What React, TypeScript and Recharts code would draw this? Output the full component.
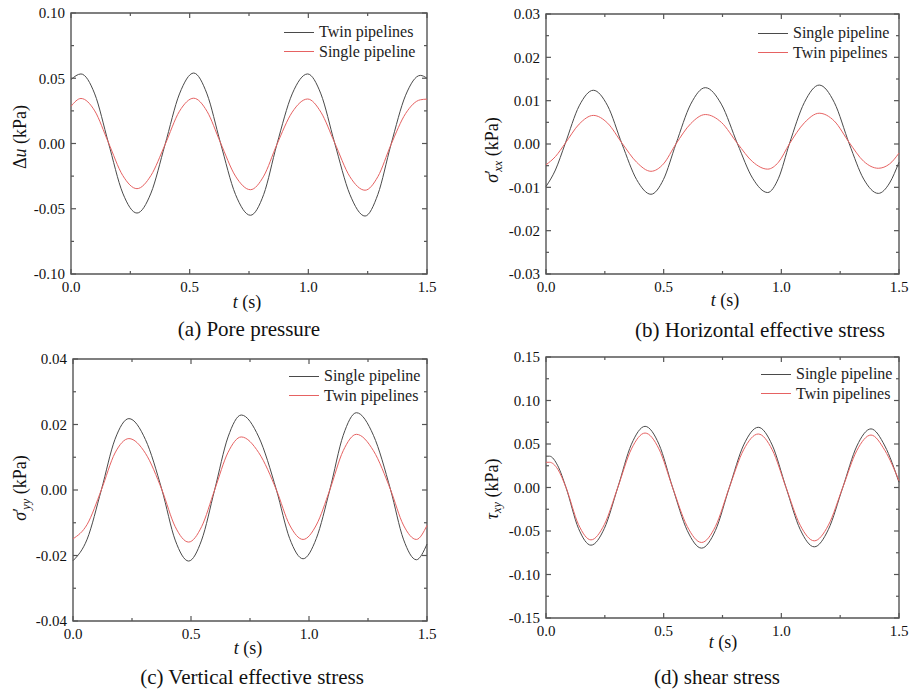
import React from 'react';
import { LineChart, Line, XAxis, YAxis, Legend, ReferenceArea } from 'recharts';

const FONT = '"Liberation Serif", "Times New Roman", serif';
const BLACK = '#4a4a4a';
const RED = '#e66262';
const AXIS = '#555';

// (a) pore pressure, kPa
const tA = [0, 0.042, 0.1, 0.157, 0.218, 0.278, 0.337, 0.396, 0.457, 0.517, 0.573, 0.629, 0.693, 0.756, 0.812, 0.867, 0.932, 0.997, 1.053, 1.11, 1.175, 1.239, 1.293, 1.348, 1.41, 1.472, 1.5];
const twinA = [0.049, 0.0533, 0.038, 0.001, -0.038, -0.0533, -0.038, -0.001, 0.038, 0.054, 0.038, 0.001, -0.039, -0.055, -0.039, -0.001, 0.038, 0.0533, 0.038, 0.001, -0.039, -0.0556, -0.039, -0.001, 0.037, 0.0522, 0.05];
const singleA = [0.0285, 0.0345, 0.025, 0.001, -0.0245, -0.0346, -0.0245, -0.001, 0.0247, 0.0347, 0.0247, 0.001, -0.025, -0.0354, -0.025, -0.001, 0.024, 0.0341, 0.024, 0.001, -0.0254, -0.0358, -0.0254, -0.001, 0.023, 0.0335, 0.034];

// (b) horizontal effective stress
const tB = [0, 0.04, 0.081, 0.141, 0.201, 0.262, 0.323, 0.385, 0.446, 0.499, 0.552, 0.615, 0.677, 0.745, 0.814, 0.878, 0.942, 0.988, 1.034, 1.098, 1.161, 1.225, 1.289, 1.35, 1.412, 1.46, 1.5];
const singleB = [-0.0098, -0.006, 0, 0.0088, 0.0124, 0.0088, 0, -0.0082, -0.0116, -0.0082, 0, 0.0092, 0.013, 0.0092, 0, -0.0079, -0.0112, -0.0079, 0, 0.0096, 0.0136, 0.0096, 0, -0.0081, -0.0114, -0.009, -0.0042];
const twinB = [-0.0048, -0.0029, 0.0001, 0.0046, 0.0066, 0.0048, 0.0002, -0.0042, -0.0063, -0.0046, 0, 0.0047, 0.0068, 0.005, 0.0001, -0.0041, -0.0058, -0.0042, 0, 0.0049, 0.0071, 0.0053, 0.0003, -0.004, -0.0056, -0.0046, -0.0021];

// (c) vertical effective stress
const tC = [0, 0.06, 0.12, 0.178, 0.237, 0.307, 0.377, 0.433, 0.49, 0.545, 0.6, 0.657, 0.713, 0.787, 0.862, 0.918, 0.975, 1.031, 1.088, 1.145, 1.201, 1.273, 1.346, 1.4, 1.455, 1.5];
const singleC = [-0.0216, -0.015, 0, 0.0155, 0.0218, 0.0154, 0, -0.0153, -0.0217, -0.0153, 0, 0.0162, 0.0229, 0.0162, 0, -0.0148, -0.021, -0.0148, 0, 0.0167, 0.0236, 0.0167, 0, -0.015, -0.0213, -0.0165];
const twinC = [-0.0149, -0.0105, 0, 0.0113, 0.0157, 0.0112, 0, -0.0112, -0.0159, -0.0112, 0, 0.0115, 0.0162, 0.0114, 0, -0.0107, -0.0151, -0.0107, 0, 0.012, 0.017, 0.012, 0, -0.0107, -0.0151, -0.0108];

// (d) shear stress
const tD = [0, 0.015, 0.05, 0.085, 0.138, 0.191, 0.248, 0.305, 0.363, 0.421, 0.48, 0.538, 0.6, 0.661, 0.72, 0.779, 0.84, 0.902, 0.961, 1.02, 1.08, 1.14, 1.2, 1.261, 1.321, 1.381, 1.44, 1.5];
const singleD = [0.036, 0.036, 0.025, 0, -0.047, -0.0663, -0.047, 0, 0.0497, 0.0703, 0.0497, 0, -0.0493, -0.0697, -0.0493, 0, 0.0489, 0.0692, 0.0489, 0, -0.0482, -0.0682, -0.0482, 0, 0.0477, 0.0674, 0.0477, 0.006];
const twinD = [0.029, 0.029, 0.021, 0, -0.0425, -0.0602, -0.0425, 0, 0.0443, 0.0626, 0.0443, 0, -0.0447, -0.0632, -0.0447, 0, 0.0435, 0.0615, 0.0435, 0, -0.0433, -0.0613, -0.0433, 0, 0.0426, 0.0603, 0.0426, 0.0077];

const xTicks = [0, 0.25, 0.5, 0.75, 1, 1.25, 1.5];
const xLabels = [0, 0.5, 1, 1.5];
const yTicksA = [-0.1, -0.075, -0.05, -0.025, 0, 0.025, 0.05, 0.075, 0.1];
const yLabelsA = [-0.1, -0.05, 0, 0.05, 0.1];
const yTicksB = [-0.03, -0.025, -0.02, -0.015, -0.01, -0.005, 0, 0.005, 0.01, 0.015, 0.02, 0.025, 0.03];
const yLabelsB = [-0.03, -0.02, -0.01, 0, 0.01, 0.02, 0.03];
const yTicksC = [-0.04, -0.03, -0.02, -0.01, 0, 0.01, 0.02, 0.03, 0.04];
const yLabelsC = [-0.04, -0.02, 0, 0.02, 0.04];
const yTicksD = [-0.15, -0.125, -0.1, -0.075, -0.05, -0.025, 0, 0.025, 0.05, 0.075, 0.1, 0.125, 0.15];
const yLabelsD = [-0.15, -0.1, -0.05, 0, 0.05, 0.1, 0.15];

const rows = (t: number[], a: number[], b: number[]) => t.map((v, i) => ({ t: v, single: a[i], twin: b[i] }));
const has = (list: number[], v: number) => list.some(l => Math.abs(l - v) < 1e-9);

const Y_W = 60;
const X_H = 30;
const MARGIN = { top: 10, right: 10, bottom: 0, left: 0 };

type Series = { key: string; name: string; color: string };
const twinFirst: Series[] = [
    { key: 'twin', name: 'Twin pipelines', color: BLACK },
    { key: 'single', name: 'Single pipeline', color: RED },
];
const singleFirst: Series[] = [
    { key: 'single', name: 'Single pipeline', color: BLACK },
    { key: 'twin', name: 'Twin pipelines', color: RED },
];

const panels = [
    { id: 'a', left: 71, top: 13, w: 356, h: 261, data: rows(tA, singleA, twinA), series: twinFirst,
      yDomain: [-0.1, 0.1], yTicks: yTicksA, yLabels: yLabelsA, legX: 213, legY: 19 },
    { id: 'b', left: 546, top: 14, w: 353, h: 260, data: rows(tB, singleB, twinB), series: singleFirst,
      yDomain: [-0.03, 0.03], yTicks: yTicksB, yLabels: yLabelsB, legX: 212, legY: 19 },
    { id: 'c', left: 73, top: 359, w: 354, h: 262, data: rows(tC, singleC, twinC), series: singleFirst,
      yDomain: [-0.04, 0.04], yTicks: yTicksC, yLabels: yLabelsC, legX: 216, legY: 17 },
    { id: 'd', left: 546, top: 357, w: 353, h: 261, data: rows(tD, singleD, twinD), series: singleFirst,
      yDomain: [-0.15, 0.15], yTicks: yTicksD, yLabels: yLabelsD, legX: 215, legY: 17 },
];

const LegendBox = ({ series }: { series: Series[] }) => (
    <div style={{ fontFamily: FONT, fontSize: 16, color: '#222', lineHeight: '19.5px' }}>
        {series.map(s => (
            <div key={s.key} style={{ display: 'flex', alignItems: 'center', whiteSpace: 'nowrap' }}>
                <span style={{ display: 'inline-block', width: 30, borderTop: `1px solid ${s.color}`, marginRight: 5 }} />
                <span>{s.name}</span>
            </div>
        ))}
    </div>
);

const Panel = ({ p }: { p: any }) => {
    const W = p.w + Y_W + MARGIN.right;
    const H = p.h + MARGIN.top + X_H;
    const top = MARGIN.top;
    const bottom = MARGIN.top + p.h;
    const left = Y_W;
    const right = Y_W + p.w;

    const xTick = (props: any) => {
        const { x, y, payload } = props;
        const major = has(xLabels, payload.value);
        const len = major ? 5 : 3;
        return (
            <g>
                <line x1={x} x2={x} y1={bottom} y2={bottom - len} stroke={AXIS} strokeWidth={1.2} />
                <line x1={x} x2={x} y1={top} y2={top + len} stroke={AXIS} strokeWidth={1.2} />
                {major && (
                    <text x={x} y={y} dy="0.71em" textAnchor="middle" fontFamily={FONT} fontSize={15} fill="#111">
                        {payload.value.toFixed(1)}
                    </text>
                )}
            </g>
        );
    };

    const yTick = (props: any) => {
        const { x, y, payload } = props;
        const major = has(p.yLabels, payload.value);
        const len = major ? 5 : 3;
        return (
            <g>
                <line x1={left} x2={left + len} y1={y} y2={y} stroke={AXIS} strokeWidth={1.2} />
                <line x1={right} x2={right - len} y1={y} y2={y} stroke={AXIS} strokeWidth={1.2} />
                {major && (
                    <text x={x} y={y} dy="0.355em" textAnchor="end" fontFamily={FONT} fontSize={15} fill="#111">
                        {payload.value.toFixed(2)}
                    </text>
                )}
            </g>
        );
    };

    return (
        <div style={{ position: 'absolute', left: p.left - Y_W, top: p.top - MARGIN.top }}>
            <LineChart width={W} height={H} data={p.data} margin={MARGIN}>
                <XAxis dataKey="t" type="number" domain={[0, 1.5]} ticks={xTicks} interval={0}
                    tickLine={false} axisLine={false} tickSize={0} tickMargin={7} height={X_H} tick={xTick} />
                <YAxis type="number" domain={p.yDomain} ticks={p.yTicks} interval={0} allowDataOverflow
                    tickLine={false} axisLine={false} tickSize={0} tickMargin={6} width={Y_W} tick={yTick} />
                {p.series.map((s: Series) => (
                    <Line key={s.key} type="monotone" dataKey={s.key} name={s.name} stroke={s.color}
                        strokeWidth={1} dot={false} isAnimationActive={false} />
                ))}
                <ReferenceArea x1={0} x2={1.5} y1={p.yDomain[0]} y2={p.yDomain[1]}
                    fill="none" fillOpacity={0} stroke={AXIS} strokeWidth={1.4} />
                <Legend layout="vertical" align="center" verticalAlign="middle"
                    wrapperStyle={{ left: left + p.legX, top: top + p.legY - 9.75, width: 'auto' }}
                    content={() => <LegendBox series={p.series} />} />
            </LineChart>
        </div>
    );
};

const textStyle = (cx: number, cy: number, size: number, rotate = false): React.CSSProperties => ({
    position: 'absolute', left: cx, top: cy, fontFamily: FONT, fontSize: size, lineHeight: 1,
    color: '#111', whiteSpace: 'nowrap',
    transform: rotate ? 'translate(-50%, -50%) rotate(-90deg)' : 'translate(-50%, -50%)',
});

const sub: React.CSSProperties = { fontSize: '0.68em', fontStyle: 'italic', verticalAlign: '-0.3em' };

export default function App() {
    return (
        <div style={{ position: 'absolute', left: 0, top: 0, width: 915, height: 697, background: '#fff', overflow: 'hidden' }}>
            {panels.map(p => <Panel key={p.id} p={p} />)}

            <div style={textStyle(20, 137, 18, true)}>Δ<i>u</i> (kPa)</div>
            <div style={textStyle(493, 150, 18, true)}><i>σ</i>′<span style={{ ...sub, marginLeft: '-0.15em' }}>xx</span> (kPa)</div>
            <div style={textStyle(21, 488, 18, true)}><i>σ</i>′<span style={{ ...sub, marginLeft: '-0.15em' }}>yy</span> (kPa)</div>
            <div style={textStyle(493, 489, 18, true)}><i>τ</i><span style={sub}>xy</span> (kPa)</div>

            <div style={textStyle(247, 302, 18)}><i>t</i> (s)</div>
            <div style={textStyle(725, 300, 18)}><i>t</i> (s)</div>
            <div style={textStyle(248, 648, 18)}><i>t</i> (s)</div>
            <div style={textStyle(723, 642, 18)}><i>t</i> (s)</div>

            <div style={textStyle(249, 329, 21)}>(a) Pore pressure</div>
            <div style={textStyle(760, 330, 21)}>(b) Horizontal effective stress</div>
            <div style={textStyle(252, 677, 21)}>(c) Vertical effective stress</div>
            <div style={textStyle(717, 677, 21)}>(d) shear stress</div>
        </div>
    );
}
